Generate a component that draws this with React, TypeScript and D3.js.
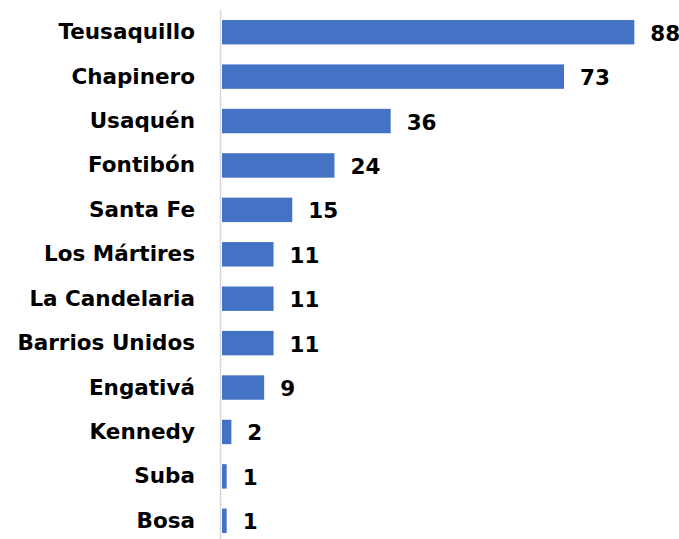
import React from "react";
import * as d3 from "d3";

const categories = ["Teusaquillo", "Chapinero", "Usaquén", "Fontibón", "Santa Fe", "Los Mártires", "La Candelaria", "Barrios Unidos", "Engativá", "Kennedy", "Suba", "Bosa"];
const values = [88, 73, 36, 24, 15, 11, 11, 11, 9, 2, 1, 1];

const W = 679;
const H = 539;
const x0 = 222;

export default function App() {
  const x = d3.scaleLinear().domain([0, 88]).range([x0, 634.3]);
  const y = d3.scaleBand<string>().domain(categories).range([10, 543]).paddingInner(0.45).paddingOuter(0.225);
  const font = "'DejaVu Sans', sans-serif";
  return (
    <svg width={W} height={H} style={{ position: "absolute", left: 0, top: 0, background: "#fff" }}>
      <line x1={220.5} x2={220.5} y1={10} y2={H} stroke="#d9d9d9" strokeWidth={1.5} />
      {categories.map((c, i) => {
        const yy = y(c)!;
        const bw = y.bandwidth();
        return (
          <g key={c}>
            <rect x={x0} y={yy} width={x(values[i]) - x0} height={bw} fill="#4472c4" />
            <text x={195} y={yy + bw / 2 + 1} textAnchor="end" dominantBaseline="middle" fontFamily={font} fontWeight="bold" fontSize={21.5} fill="#000">{c}</text>
            <text x={x(values[i]) + 16} y={yy + bw / 2 + 2.5} dominantBaseline="middle" fontFamily={font} fontWeight="bold" fontSize={21.5} fill="#000">{values[i]}</text>
          </g>
        );
      })}
    </svg>
  );
}
